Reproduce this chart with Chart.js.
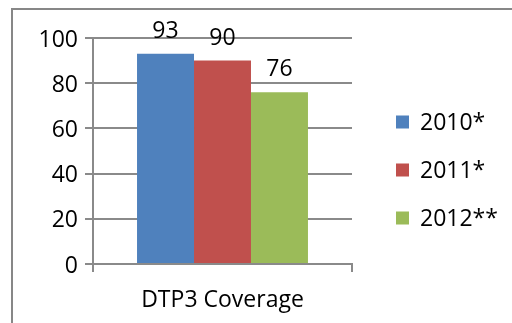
<!DOCTYPE html>
<html>
<head>
<meta charset="utf-8">
<script src="https://cdn.jsdelivr.net/npm/chart.js@4/dist/chart.umd.min.js"></script>
<style>
  html, body { margin: 0; padding: 0; background: #fff; }
  #wrap { position: relative; width: 512px; height: 323px; overflow: hidden; }
  #frame { position: absolute; left: 11px; top: 8px; width: 600px; height: 400px;
           border-left: 2px solid #878787; border-top: 2px solid #878787; }
  canvas { position: absolute; left: 0; top: 0; }
</style>
</head>
<body>
<div id="wrap">
  <div id="frame"></div>
  <canvas id="c" width="512" height="323"></canvas>
</div>
<script>
// DTP3 vaccination coverage (%), one group with three survey years
const categories = ['DTP3 Coverage'];
const seriesNames = ['2010*', '2011*', '2012**'];
const seriesValues = [[93], [90], [76]];
const seriesColors = ['#4F81BD', '#C0504D', '#9BBB59'];
const yTicks = [0, 20, 40, 60, 80, 100];

const FONT = "'Open Sans', 'Liberation Sans', sans-serif";
const FSIZE = 23;
const TEXT = '#000';
const AXIS = '#8a8a8a';

// value labels above every bar
const valueLabels = {
  id: 'valueLabels',
  afterDatasetsDraw(chart) {
    const ctx = chart.ctx;
    ctx.save();
    ctx.font = FSIZE + 'px ' + FONT;
    ctx.fillStyle = TEXT;
    ctx.textAlign = 'center';
    ctx.textBaseline = 'alphabetic';
    chart.data.datasets.forEach((ds, i) => {
      chart.getDatasetMeta(i).data.forEach((bar, j) => {
        ctx.fillText(String(ds.data[j]), bar.x, bar.y - 16);
      });
    });
    ctx.restore();
  }
};

// legend column on the right, square swatches
const sideLegend = {
  id: 'sideLegend',
  afterDraw(chart) {
    const ctx = chart.ctx;
    ctx.save();
    ctx.font = FSIZE + 'px ' + FONT;
    ctx.textBaseline = 'middle';
    ctx.textAlign = 'left';
    const x0 = 396, y0 = 122, step = 48, box = 13;
    chart.data.datasets.forEach((ds, i) => {
      const y = y0 + i * step;
      ctx.fillStyle = ds.backgroundColor;
      ctx.fillRect(x0, y - box / 2, box, box);
      ctx.fillStyle = TEXT;
      ctx.fillText(ds.label, x0 + 24, y + 1);
    });
    ctx.restore();
  }
};

new Chart(document.getElementById('c'), {
  type: 'bar',
  data: {
    labels: categories,
    datasets: seriesNames.map((name, i) => ({
      label: name,
      data: seriesValues[i],
      backgroundColor: seriesColors[i],
      borderWidth: 0
    }))
  },
  options: {
    responsive: false,
    animation: false,
    devicePixelRatio: 1,
    layout: { padding: { top: 38, right: 160, left: 0, bottom: 0 } },
    datasets: { bar: { barPercentage: 1, categoryPercentage: 0.66 } },
    plugins: { legend: { display: false }, tooltip: { enabled: false } },
    scales: {
      x: {
        grid: { drawOnChartArea: false, color: AXIS, lineWidth: 2, tickLength: 8, offset: true },
        border: { color: AXIS, width: 2 },
        ticks: { color: TEXT, font: { family: FONT, size: FSIZE }, padding: 15 },
        afterFit(s) { s.height = 59; }
      },
      y: {
        min: 0, max: 100,
        afterBuildTicks(s) { s.ticks = yTicks.map(v => ({ value: v })); },
        grid: { color: AXIS, lineWidth: 2, tickLength: 8 },
        border: { color: AXIS, width: 2 },
        ticks: { color: TEXT, font: { family: FONT, size: FSIZE }, padding: 7, labelOffset: 2 },
        afterFit(s) { s.width = 93; }
      }
    }
  },
  plugins: [valueLabels, sideLegend]
});
</script>
</body>
</html>
